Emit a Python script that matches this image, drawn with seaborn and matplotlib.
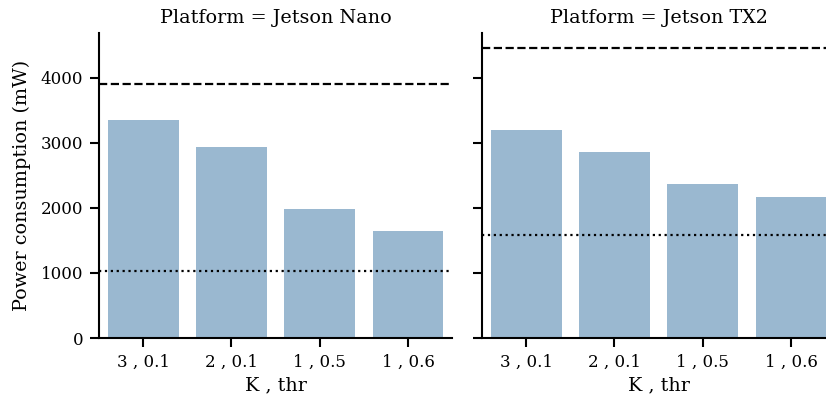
import matplotlib
matplotlib.use("Agg")
import matplotlib.pyplot as plt
import pandas as pd
import seaborn as sns

# values
platforms = ["Jetson Nano", "Jetson TX2"]
configs = ["3 , 0.1", "2 , 0.1", "1 , 0.5", "1 , 0.6"]
nano_power = [3350, 2935, 1980, 1642]
tx2_power = [3195, 2857, 2365, 2165]
upper_ref = [3900, 4452]   # dashed line per platform
lower_ref = [1030, 1580]   # dotted line per platform

df = pd.DataFrame({
    "Platform": [platforms[0]] * len(configs) + [platforms[1]] * len(configs),
    "K , thr": configs + configs,
    "Power consumption (mW)": nano_power + tx2_power,
})

sns.set_style("ticks")
plt.rcParams["font.family"] = ["DejaVu Serif"]
plt.rcParams.update({
    "text.color": "black", "axes.labelcolor": "black",
    "xtick.color": "black", "ytick.color": "black", "axes.edgecolor": "black",
    "axes.linewidth": 1.5,
    "xtick.major.width": 1.5, "ytick.major.width": 1.5,
    "xtick.major.size": 6.5, "ytick.major.size": 6.5,
    "xtick.major.pad": 5, "ytick.major.pad": 5,
    "xtick.labelsize": 12, "ytick.labelsize": 12,
    "axes.labelsize": 13.8, "axes.titlesize": 13.8,
    "axes.titlepad": 7,
})

g = sns.catplot(data=df, x="K , thr", y="Power consumption (mW)", col="Platform",
                kind="bar", color="#9ab8d0", saturation=1, errorbar=None, linewidth=0,
                order=configs, col_order=platforms, height=4, aspect=1)

for ax, hi, lo in zip(g.axes.flat, upper_ref, lower_ref):
    ax.axhline(hi, color="black", ls="--", lw=1.6)
    ax.axhline(lo, color="black", ls=":", lw=1.6)
    ax.set_ylim(0, 4690)

g.axes.flat[0].set_ylabel("Power consumption (mW)", labelpad=7)
g.set_titles("Platform = {col_name}")
g.figure.set_size_inches(8.26, 4.01)
g.figure.subplots_adjust(left=0.12, right=1.011, bottom=0.157, top=0.918, wspace=0.085)
g.figure.savefig("out.png", dpi=100)
